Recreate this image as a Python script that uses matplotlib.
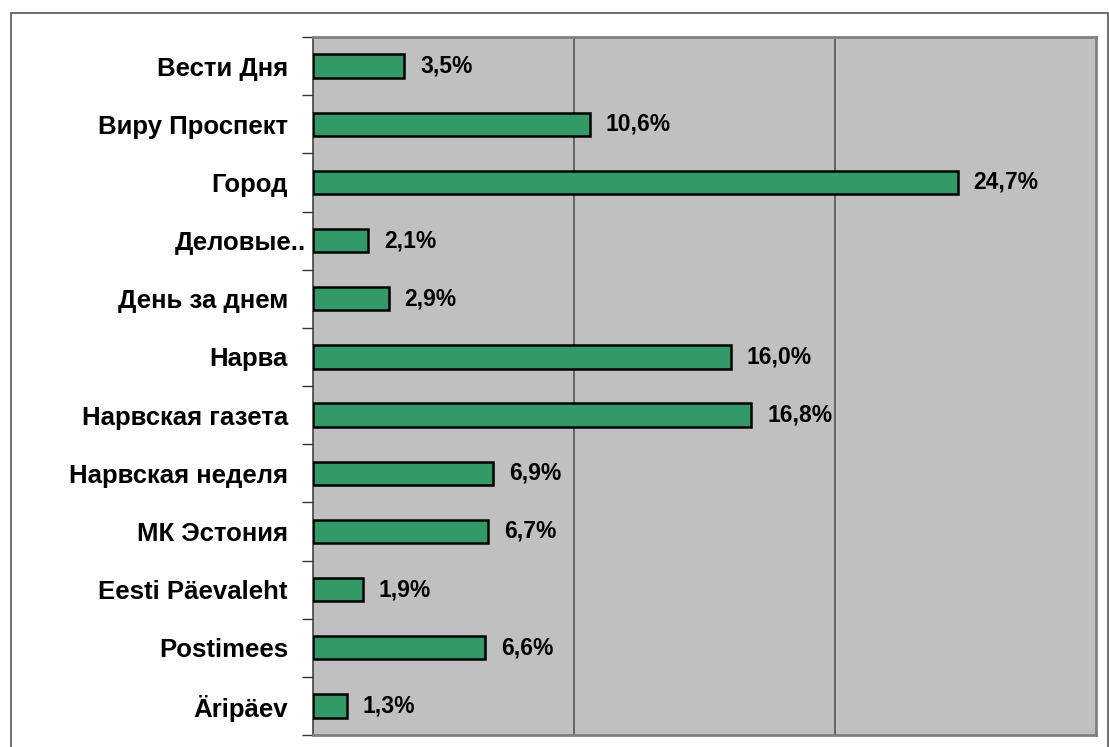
import matplotlib
matplotlib.use("Agg")
import matplotlib.pyplot as plt
from matplotlib.patches import Rectangle
from matplotlib.transforms import ScaledTranslation
import numpy as np

categories = ["Вести Дня", "Виру Проспект", "Город", "Деловые..", "День за днем",
              "Нарва", "Нарвская газета", "Нарвская неделя", "МК Эстония",
              "Eesti Päevaleht", "Postimees", "Äripäev"]
values = [3.5, 10.6, 24.7, 2.1, 2.9, 16.0, 16.8, 6.9, 6.7, 1.9, 6.6, 1.3]
value_labels = ["3,5%", "10,6%", "24,7%", "2,1%", "2,9%", "16,0%", "16,8%",
                "6,9%", "6,7%", "1,9%", "6,6%", "1,3%"]

W, H = 1109, 747
fig = plt.figure(figsize=(W / 100, H / 100), dpi=100)
fig.patch.set_facecolor("white")

# outer chart border (cropped at right/bottom in the reference)
fig.patches.append(Rectangle((11 / W, 1 - 760 / H), (1108 - 11) / W, (760 - 13) / H,
                             transform=fig.transFigure, fill=False,
                             edgecolor="#555555", linewidth=1.2))

left, right, top, bottom = 313, 1096, 37, 735
ax = fig.add_axes([left / W, 1 - bottom / H, (right - left) / W, (bottom - top) / H])
ax.set_facecolor("#C0C0C0")

n = len(categories)
y = np.arange(n)
ax.barh(y, values, height=0.4, color="#339966", edgecolor="black", linewidth=1.8, zorder=3)

ax.set_xlim(0, 30)
ax.set_ylim(n - 0.5, -0.5)
ax.set_xticks([10, 20])
ax.xaxis.grid(True, color="#555555", linewidth=1.2, zorder=1)
ax.tick_params(axis="x", length=0, labelbottom=False)

ax.set_yticks(y)
ax.set_yticklabels(categories, fontsize=18.5, fontweight="bold", family="Liberation Sans")
ax.tick_params(axis="y", which="major", length=0, pad=18)
ax.set_yticks(np.arange(-0.5, n + 0.5, 1), minor=True)
ax.tick_params(axis="y", which="minor", length=8, width=1.0, color="#333333", direction="out")

for lab in ax.get_yticklabels():
    if lab.get_text().startswith("Деловые"):
        lab.set_transform(lab.get_transform() + ScaledTranslation(18 / 100, 0, fig.dpi_scale_trans))

for i, (v, t) in enumerate(zip(values, value_labels)):
    ax.annotate(t, (v, i), xytext=(16, 0), textcoords="offset pixels",
                va="center", ha="left", fontsize=16.5, fontweight="bold",
                family="Liberation Sans", zorder=4)

for s in ["top", "right", "bottom"]:
    ax.spines[s].set_color("#808080")
    ax.spines[s].set_linewidth(2)
ax.spines["left"].set_color("#444444")
ax.spines["left"].set_linewidth(1.2)

fig.savefig("out.png", dpi=100)
